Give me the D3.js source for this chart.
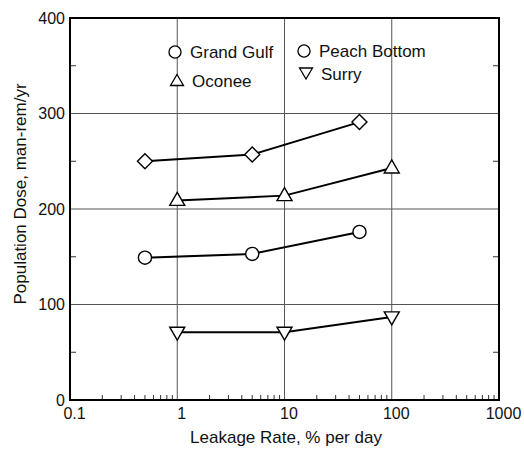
<!DOCTYPE html>
<html>
<head>
<meta charset="utf-8">
<script src="https://cdn.jsdelivr.net/npm/d3@7"></script>
<style>
  body { margin: 0; background: #fff; }
  text { font-family: "Liberation Sans", Arial, sans-serif; fill: #111; }
</style>
</head>
<body>
<svg id="chart" width="524" height="451"></svg>
<script>
// data
var diamondX = [0.5, 5, 50];
var diamondY = [250, 257, 291];
var oconeeX = [1, 10, 100];
var oconeeY = [209, 214, 243];
var peachX = [0.5, 5, 50];
var peachY = [149, 153, 176];
var surryX = [1, 10, 100];
var surryY = [71, 71, 87];
var xTicks = [0.1, 1, 10, 100, 1000];
var yTicks = [0, 100, 200, 300, 400];

var svg = d3.select("#chart");
var padL = 70, padT = 18, padR = 499, padB = 400;

var x = d3.scaleLog().domain([0.1, 1000]).range([padL, padR]);
var y = d3.scaleLinear().domain([0, 400]).range([padB, padT]);

var g = svg.append("g");

// grid lines
[1, 10, 100].forEach(function (v) {
    g.append("line").attr("x1", x(v)).attr("x2", x(v)).attr("y1", padT).attr("y2", padB)
        .attr("stroke", "#555").attr("stroke-width", 1);
});
[100, 200, 300].forEach(function (v) {
    g.append("line").attr("x1", padL).attr("x2", padR).attr("y1", y(v)).attr("y2", y(v))
        .attr("stroke", "#555").attr("stroke-width", 1);
});

// minor ticks on x (inside, bottom)
var minor = [];
[0.1, 1, 10, 100].forEach(function (d) {
    for (var k = 2; k <= 9; k++) minor.push(d * k);
});
minor.forEach(function (v) {
    g.append("line").attr("x1", x(v)).attr("x2", x(v)).attr("y1", padB).attr("y2", padB - 5)
        .attr("stroke", "#333").attr("stroke-width", 1);
});
// minor ticks on y (inside, left and right)
[50, 150, 250, 350].forEach(function (v) {
    g.append("line").attr("x1", padL).attr("x2", padL + 6).attr("y1", y(v)).attr("y2", y(v))
        .attr("stroke", "#333").attr("stroke-width", 1);
    g.append("line").attr("x1", padR).attr("x2", padR - 6).attr("y1", y(v)).attr("y2", y(v))
        .attr("stroke", "#333").attr("stroke-width", 1);
});

// frame
g.append("rect").attr("x", padL).attr("y", padT).attr("width", padR - padL).attr("height", padB - padT)
    .attr("fill", "none").attr("stroke", "#000").attr("stroke-width", 2);

// axes (labels only, the frame draws the lines)
var xAxis = svg.append("g").attr("transform", "translate(4," + padB + ")")
    .call(d3.axisBottom(x).tickValues(xTicks).tickFormat(function (d) { return d; }).tickSize(0).tickPadding(8));
xAxis.select(".domain").remove();
xAxis.selectAll("text").style("font-size", "16px").style("font-family", "Liberation Sans, Arial, sans-serif");

var yAxis = svg.append("g").attr("transform", "translate(" + padL + ",0)")
    .call(d3.axisLeft(y).tickValues(yTicks).tickSize(0).tickPadding(5));
yAxis.select(".domain").remove();
yAxis.selectAll("text").style("font-size", "16px").style("font-family", "Liberation Sans, Arial, sans-serif");

// axis titles
svg.append("text").attr("x", 286).attr("y", 443).attr("text-anchor", "middle")
    .style("font-size", "17px").text("Leakage Rate, % per day");
svg.append("text").attr("transform", "translate(26,194) rotate(-90)").attr("text-anchor", "middle")
    .style("font-size", "17px").text("Population Dose, man-rem/yr");

// lines and markers
var line = d3.line().x(function (d) { return x(d[0]); }).y(function (d) { return y(d[1]); });

function drawSeries(xs, ys, shape) {
    var pts = xs.map(function (v, i) { return [v, ys[i]]; });
    g.append("path").datum(pts).attr("d", line).attr("fill", "none")
        .attr("stroke", "#000").attr("stroke-width", 2);
    g.selectAll(null).data(pts).enter().append("path")
        .attr("transform", function (d) { return "translate(" + x(d[0]) + "," + y(d[1]) + ")"; })
        .attr("d", shape)
        .attr("fill", "#fff").attr("stroke", "#000").attr("stroke-width", 1.4);
}

var circleShape = d3.symbol().type(d3.symbolCircle).size(135)();
var diamondShape = "M0,-7.5L7.5,0L0,7.5L-7.5,0Z";
var triUp = "M0,-8L7.5,5L-7.5,5Z";
var triDown = "M0,8L7.5,-5L-7.5,-5Z";

drawSeries(diamondX, diamondY, diamondShape);
drawSeries(oconeeX, oconeeY, triUp);
drawSeries(peachX, peachY, circleShape);
drawSeries(surryX, surryY, triDown);

// legend
var legend = svg.append("g");
var legCircle = d3.symbol().type(d3.symbolCircle).size(115)();
var legItems = [
    { name: "Grand Gulf", shape: legCircle, x: 175, y: 52 },
    { name: "Oconee", shape: "M0,-6.5L6.5,4.5L-6.5,4.5Z", x: 177, y: 81 },
    { name: "Peach Bottom", shape: legCircle, x: 304, y: 51 },
    { name: "Surry", shape: "M0,5L6.5,-6L-6.5,-6Z", x: 306, y: 74 }
];
legItems.forEach(function (it) {
    legend.append("path").attr("transform", "translate(" + it.x + "," + it.y + ")")
        .attr("d", it.shape)
        .attr("fill", "#fff").attr("stroke", "#000").attr("stroke-width", 1.3);
    legend.append("text").attr("x", it.x + 15).attr("y", it.y + 6)
        .style("font-size", "17px").text(it.name);
});
</script>
</body>
</html>
